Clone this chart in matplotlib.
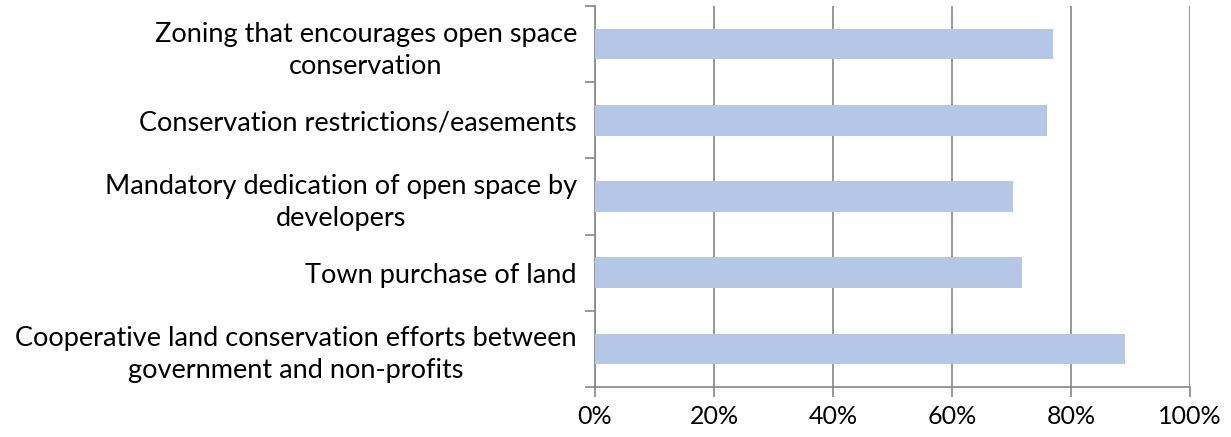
import numpy as np
import matplotlib.pyplot as plt
import matplotlib.ticker as plticker

categories = [
    'Zoning that encourages open space\nconservation',
    'Conservation restrictions/easements',
    'Mandatory dedication of open space by\ndevelopers',
    'Town purchase of land',
    'Cooperative land conservation efforts between\ngovernment and non-profits',
]
values = [0.770, 0.759, 0.703, 0.718, 0.891]
xticks = [0, 0.2, 0.4, 0.6, 0.8, 1.0]

plt.rcParams['font.family'] = ['Lato', 'DejaVu Sans']
grey = '#868686'

fig = plt.figure(figsize=(12.31, 4.37), dpi=100)
ax = fig.add_axes([595 / 1231, 1 - 387 / 437, 595 / 1231, 381 / 437])

n = len(categories)
pos = np.arange(n)[::-1]
ax.barh(pos, values, height=0.4, color='#B4C7E7', zorder=3)

ax.set_xlim(0, 1.0)
ax.set_ylim(-0.5, n - 0.5)
ax.set_xticks(xticks)
ax.xaxis.set_major_formatter(plticker.PercentFormatter(1.0, decimals=0))
ax.grid(axis='x', color=grey, linewidth=1.2, zorder=0)

ax.set_yticks(pos)
ax.set_yticklabels(categories, fontsize=19.5, ha='right', multialignment='center',
                   linespacing=1.35)
ax.tick_params(axis='y', which='major', length=0, pad=13)
ax.set_yticks(np.arange(-0.5, n), minor=True)
ax.tick_params(axis='y', which='minor', length=7, color=grey, width=1.2)
ax.tick_params(axis='x', length=7, color=grey, width=1.2, labelsize=18, pad=6)

for s in ['top', 'right']:
    ax.spines[s].set_visible(False)
for s in ['left', 'bottom']:
    ax.spines[s].set_color(grey)
    ax.spines[s].set_linewidth(1.2)

fig.savefig('out.png', dpi=100)
